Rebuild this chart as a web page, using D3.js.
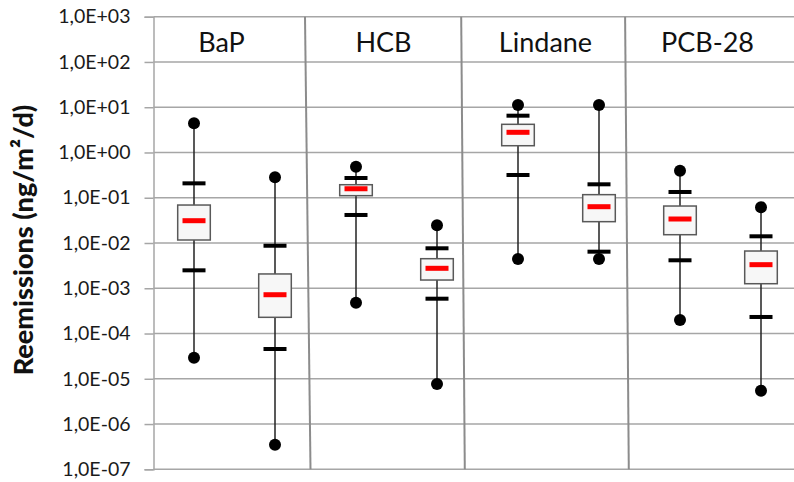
<!DOCTYPE html>
<html>
<head>
<meta charset="utf-8">
<script src="https://cdn.jsdelivr.net/npm/d3@7"></script>
<style>
  html, body { margin: 0; padding: 0; background: #fff; }
  svg { display: block; }
</style>
</head>
<body>
<svg id="chart" width="794" height="482"></svg>
<script>
// ---- data ----
const categories = ["BaP", "HCB", "Lindane", "PCB-28"];
const boxIds = ["BaP-1", "BaP-2", "HCB-1", "HCB-2", "Lindane-1", "Lindane-2", "PCB-28-1", "PCB-28-2"];
const maxValues    = [4.4,     0.283,   0.485,  0.0246,  11.2,   11.2,    0.396,   0.0615];
const upperCaps    = [0.208,   0.0087,  0.273,  0.00764, 6.5,    0.198,   0.134,   0.01406];
const q3Values     = [0.069,   0.00207, 0.194,  0.0045,  4.19,   0.117,   0.0656,  0.00665];
const medianValues = [0.0311,  7.2e-4,  0.158,  0.00276, 2.79,   0.0634,  0.0339,  0.00332];
const q1Values     = [0.01165, 2.28e-4, 0.111,  0.00152, 1.41,   0.0296,  0.01525, 0.00126];
const lowerCaps    = [0.00249, 4.55e-5, 0.0416, 5.88e-4, 0.318,  0.00643, 0.00415, 2.32e-4];
const minValues    = [2.9e-5,  3.5e-7,  4.8e-4, 7.7e-6,  0.00443,0.00443, 1.99e-4, 5.46e-6];
const tickValues = [1e3, 1e2, 1e1, 1e0, 1e-1, 1e-2, 1e-3, 1e-4, 1e-5, 1e-6, 1e-7];
const yTitle = "Reemissions (ng/m²/d)";

// ---- layout ----
const W = 794, H = 482;
const plotLeft = 153.5, plotRight = 794, plotTop = 16.7, plotBottom = 469.3;
const step = 81;
const svg = d3.select("#chart");

const x = d3.scaleBand().domain(boxIds).range([plotLeft, plotLeft + step * boxIds.length]).padding(0);
const y = d3.scaleLog().domain([1e-7, 1e3]).range([plotBottom, plotTop]);
const cx = id => x(id) + x.bandwidth() / 2;

const fmt = v => {
  const e = Math.round(Math.log10(v));
  const sign = e < 0 ? "-" : "+";
  return "1,0E" + sign + String(Math.abs(e)).padStart(2, "0");
};

// gridlines
svg.append("g").selectAll("line").data(tickValues).join("line")
  .attr("x1", plotLeft).attr("x2", plotRight)
  .attr("y1", d => y(d)).attr("y2", d => y(d))
  .attr("stroke", "#a6a6a6").attr("stroke-width", 1.5);

// y axis
const yAxis = d3.axisLeft(y).tickValues(tickValues).tickFormat(fmt).tickSize(9).tickPadding(14);
const ag = svg.append("g").attr("transform", `translate(${plotLeft},0)`).call(yAxis);
ag.select(".domain").attr("stroke", "#a6a6a6").attr("stroke-width", 1.5);
ag.selectAll(".tick line").attr("stroke", "#a6a6a6").attr("stroke-width", 1.5);
ag.selectAll(".tick text").attr("font-family", "Lato, 'Open Sans', sans-serif")
  .attr("font-size", 19.5).attr("fill", "#1a1a1a");

// y title
svg.append("text")
  .attr("transform", `translate(33,240) rotate(-90)`)
  .attr("text-anchor", "middle")
  .attr("font-family", "Lato, 'Open Sans', sans-serif")
  .attr("font-weight", "900").attr("font-size", 27).attr("fill", "#111")
  .text(yTitle);

// group separators (slightly slanted, as in the reference)
const sepOffsets = [[-10.5, -5], [-16.3, -12.7], [-14.4, -10.7]];
for (let g = 1; g < categories.length; g++) {
  const bx = x(boxIds[2 * g]);
  svg.append("line")
    .attr("x1", bx + sepOffsets[g - 1][0]).attr("y1", plotTop)
    .attr("x2", bx + sepOffsets[g - 1][1]).attr("y2", plotBottom)
    .attr("stroke", "#8c8c8c").attr("stroke-width", 2);
}

// titles
svg.append("g").selectAll("text").data(categories).join("text")
  .attr("x", (d, i) => (cx(boxIds[2 * i]) + cx(boxIds[2 * i + 1])) / 2 - 13)
  .attr("y", 52)
  .attr("text-anchor", "middle")
  .attr("font-family", "Lato, 'Open Sans', sans-serif")
  .attr("font-size", 27).attr("fill", "#111")
  .text(d => d);

// boxes
const boxes = boxIds.map((id, i) => ({
  id, max: maxValues[i], hi: upperCaps[i], q3: q3Values[i], med: medianValues[i],
  q1: q1Values[i], lo: lowerCaps[i], min: minValues[i]
}));
const bw = 32.6, capW = 23, capH = 4, medH = 5, r = 6;
const bg = svg.append("g");
const gEach = bg.selectAll("g").data(boxes).join("g");
gEach.append("line")
  .attr("x1", d => cx(d.id)).attr("x2", d => cx(d.id))
  .attr("y1", d => y(d.min)).attr("y2", d => y(d.max))
  .attr("stroke", "#222").attr("stroke-width", 1.5);
gEach.append("rect")
  .attr("x", d => cx(d.id) - bw / 2).attr("width", bw)
  .attr("y", d => y(d.q3)).attr("height", d => y(d.q1) - y(d.q3))
  .attr("fill", "#f7f7f7").attr("stroke", "#595959").attr("stroke-width", 1.5);
gEach.append("rect")
  .attr("x", d => cx(d.id) - capW / 2).attr("width", capW)
  .attr("y", d => y(d.med) - medH / 2).attr("height", medH)
  .attr("fill", "#ff0000");
["hi", "lo"].forEach(k => {
  gEach.append("rect")
    .attr("x", d => cx(d.id) - capW / 2).attr("width", capW)
    .attr("y", d => y(d[k]) - capH / 2).attr("height", capH)
    .attr("fill", "#000");
});
["max", "min"].forEach(k => {
  gEach.append("circle")
    .attr("cx", d => cx(d.id)).attr("cy", d => y(d[k])).attr("r", r)
    .attr("fill", "#000");
});
</script>
</body>
</html>
